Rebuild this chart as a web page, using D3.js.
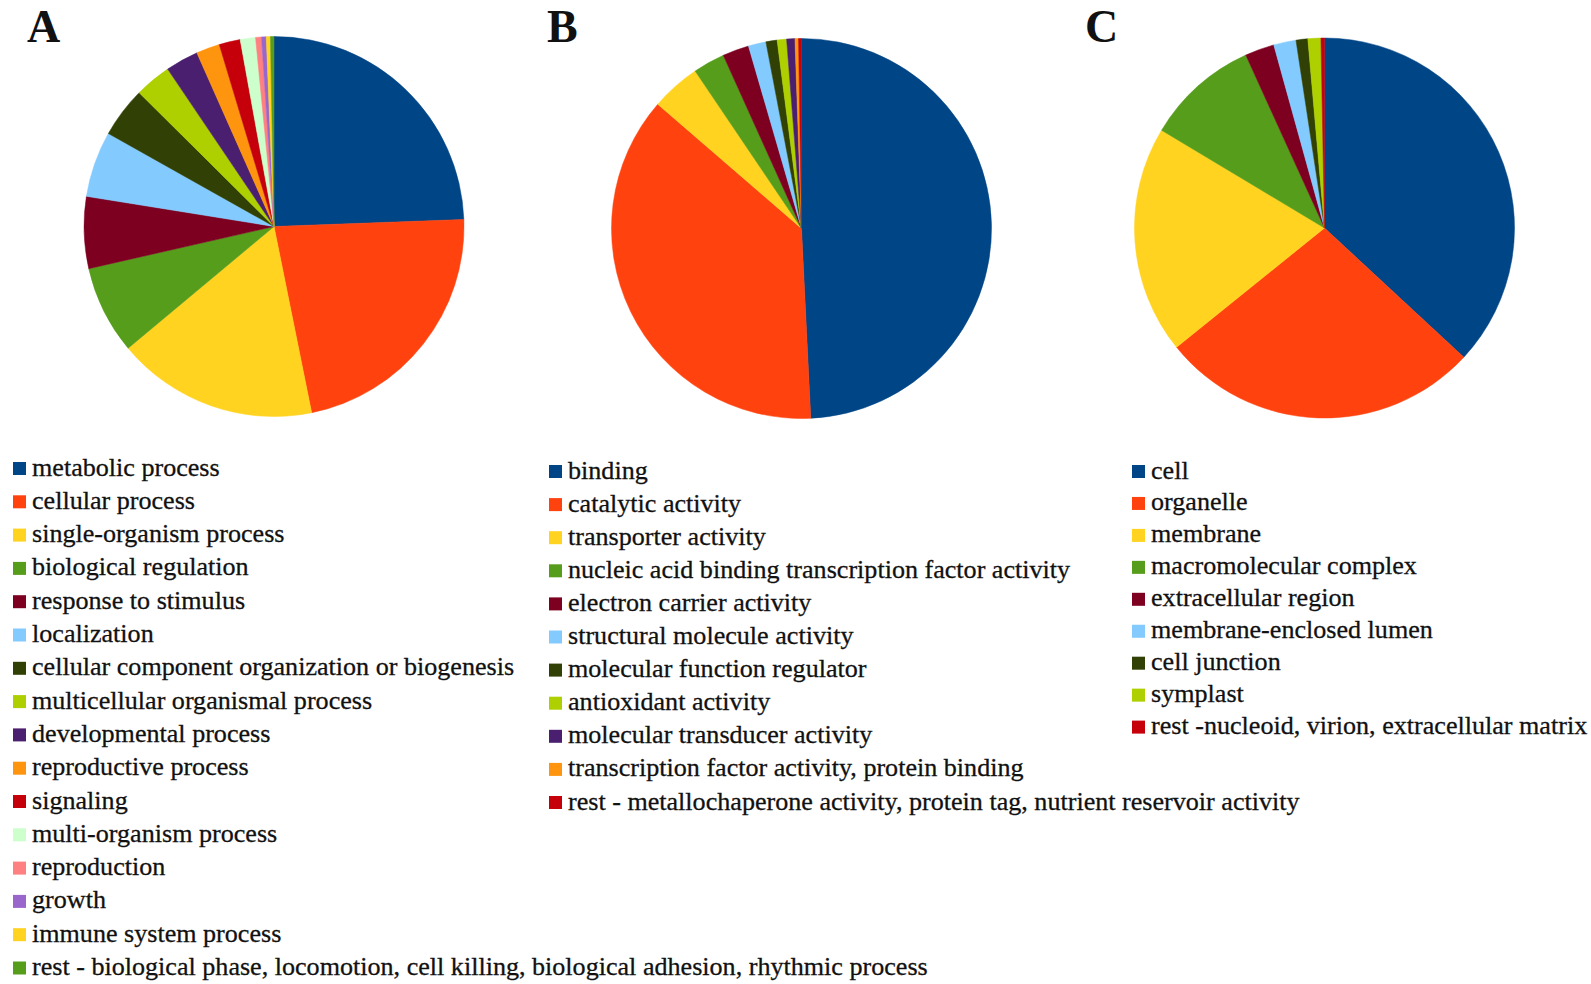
<!DOCTYPE html>
<html>
<head>
<meta charset="utf-8">
<script src="https://cdn.jsdelivr.net/npm/d3@7"></script>
<style>
  body { margin: 0; background: #fff; }
  text { font-family: 'Liberation Serif', 'Times New Roman', serif; }
</style>
</head>
<body>
<div id="dataviz"></div>
<script>
// GO categories and shares (%)
var labelsA = ['metabolic process', 'cellular process', 'single-organism process', 'biological regulation',
  'response to stimulus', 'localization', 'cellular component organization or biogenesis',
  'multicellular organismal process', 'developmental process', 'reproductive process', 'signaling',
  'multi-organism process', 'reproduction', 'growth', 'immune system process',
  'rest - biological phase, locomotion, cell killing, biological adhesion, rhythmic process'];
var valuesA = [24.4, 22.4, 17.1, 7.5, 6.1, 5.6, 4.3, 3.1, 2.8, 2.0, 1.8, 1.3, 0.5, 0.4, 0.35, 0.3];

var labelsB = ['binding', 'catalytic activity', 'transporter activity',
  'nucleic acid binding transcription factor activity', 'electron carrier activity',
  'structural molecule activity', 'molecular function regulator', 'antioxidant activity',
  'molecular transducer activity', 'transcription factor activity, protein binding',
  'rest - metallochaperone activity, protein tag, nutrient reservoir activity'];
var valuesB = [49.2, 37.1, 4.2, 2.7, 2.25, 1.5, 0.95, 0.8, 0.7, 0.3, 0.25];

var labelsC = ['cell', 'organelle', 'membrane', 'macromolecular complex', 'extracellular region',
  'membrane-enclosed lumen', 'cell junction', 'symplast', 'rest -nucleoid, virion, extracellular matrix'];
var valuesC = [36.9, 27.3, 19.4, 9.6, 2.5, 1.9, 1.0, 1.1, 0.3];

var palette = ['#004586', '#ff420e', '#ffd320', '#579d1c', '#7e0021', '#83caff', '#314004',
  '#aecf00', '#4b1f6f', '#ff950e', '#c5000b', '#ccffcc', '#ff8080', '#9966cc', '#ffd320', '#579d1c'];
var restRed = '#c5000b';

var svg = d3.select('#dataviz').append('svg')
            .attr('width', 1591)
            .attr('height', 984);

var pie = d3.pie().sort(null).value(function(d) { return d; });

var panels = [
  {name: 'A', labels: labelsA, values: valuesA, colors: palette.slice(0, 16),
   cx: 274, cy: 226.5, r: 190, titleX: 27, legX: 13, legY: 468.5, legStep: 33.3, sw: 13},
  {name: 'B', labels: labelsB, values: valuesB, colors: palette.slice(0, 10).concat([restRed]),
   cx: 801.5, cy: 228.5, r: 190, titleX: 547, legX: 549, legY: 471.5, legStep: 33.1, sw: 13},
  {name: 'C', labels: labelsC, values: valuesC, colors: palette.slice(0, 8).concat([restRed]),
   cx: 1324.5, cy: 228, r: 190, titleX: 1085, legX: 1132, legY: 471.5, legStep: 31.95, sw: 13}
];

panels.forEach(function(p) {
  var arc = d3.arc().innerRadius(0).outerRadius(p.r);

  svg.append('text')
     .attr('x', p.titleX)
     .attr('y', 42)
     .attr('font-size', 46)
     .attr('font-weight', 'bold')
     .attr('fill', '#111')
     .text(p.name);

  svg.append('g')
     .attr('transform', 'translate(' + p.cx + ',' + p.cy + ')')
     .selectAll('path')
     .data(pie(p.values)).enter()
       .append('path')
       .attr('d', arc)
       .attr('fill', function(d, i) { return p.colors[i]; })
       .attr('stroke', function(d, i) { return p.colors[i]; })
       .attr('stroke-width', 0.5);

  var y = d3.scaleLinear().domain([0, 1]).range([p.legY, p.legY + p.legStep]);

  var rows = svg.append('g').selectAll('g')
                .data(p.labels).enter()
                  .append('g')
                  .attr('transform', function(d, i) { return 'translate(' + p.legX + ',' + y(i) + ')'; });

  rows.append('rect')
      .attr('x', 0)
      .attr('y', -p.sw / 2)
      .attr('width', p.sw)
      .attr('height', p.sw)
      .attr('fill', function(d, i) { return p.colors[i]; });

  rows.append('text')
      .attr('x', p.sw + 6)
      .attr('y', 7)
      .attr('font-size', 26.1)
      .attr('fill', '#111')
      .attr('stroke', '#111')
      .attr('stroke-width', 0.3)
      .text(function(d) { return d; });
});
</script>
</body>
</html>
